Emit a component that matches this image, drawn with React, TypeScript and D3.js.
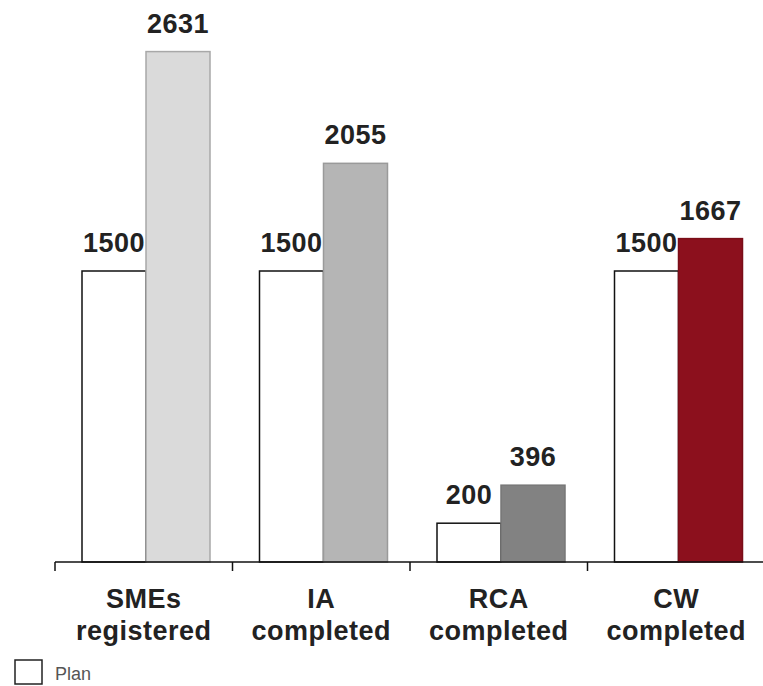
import * as d3 from "d3";
import { useEffect, useRef } from "react";

const categories = ["SMEs registered", "IA completed", "RCA completed", "CW completed"];
const planValues = [1500, 1500, 200, 1500];
const actualValues = [2631, 2055, 396, 1667];
const actualColors = ["#dadada", "#b5b5b5", "#828282", "#8c101d"];
const actualStrokes = ["#a8a8a8", "#9a9a9a", "#777777", "#7a0d18"];
const legendLabels = ["Plan"];

const Chart = () => {
  const ref = useRef(null);

  useEffect(() => {
    var width = 763;
    var height = 686;
    var baseline = 562;

    var svg = d3
      .select(ref.current)
      .append("svg")
      .attr("width", width)
      .attr("height", height)
      .style("position", "absolute")
      .style("left", "0px")
      .style("top", "0px")
      .style("font-family", "Liberation Sans, Arial, sans-serif");

    var x0 = d3.scaleBand().domain(categories).range([55, 765]).padding(0);
    // two bars per group, plan on the left, actual on the right
    var x1 = d3.scaleBand().domain(["plan", "actual"]).range([27, 155]).padding(0);
    var y = d3.scaleLinear().domain([0, 1500]).range([baseline, 271]);

    var data = categories.map((c, i) => ({
      key: c,
      plan: planValues[i],
      actual: actualValues[i],
      fill: actualColors[i],
      stroke: actualStrokes[i],
    }));

    var g = svg.selectAll("g.group").data(data).enter().append("g")
      .attr("transform", (d) => "translate(" + x0(d.key) + ",0)");

    g.append("rect")
      .attr("x", x1("plan")!)
      .attr("y", (d) => y(d.plan))
      .attr("width", x1.bandwidth())
      .attr("height", (d) => baseline - y(d.plan))
      .attr("fill", "white")
      .attr("stroke", "#111")
      .attr("stroke-width", 1.5);

    g.append("rect")
      .attr("x", x1("actual")!)
      .attr("y", (d) => y(d.actual))
      .attr("width", x1.bandwidth())
      .attr("height", (d) => baseline - y(d.actual))
      .attr("fill", (d) => d.fill)
      .attr("stroke", (d) => d.stroke)
      .attr("stroke-width", 1.5);

    // value labels
    g.append("text")
      .attr("x", x1("plan")! + x1.bandwidth() / 2)
      .attr("y", (d) => y(d.plan) - 19)
      .attr("text-anchor", "middle")
      .style("font-size", "27px")
      .style("font-weight", "bold")
      .style("letter-spacing", "0.5px")
      .attr("fill", "#222")
      .text((d) => d.plan);

    g.append("text")
      .attr("x", x1("actual")! + x1.bandwidth() / 2)
      .attr("y", (d) => y(d.actual) - 19)
      .attr("text-anchor", "middle")
      .style("font-size", "27px")
      .style("font-weight", "bold")
      .style("letter-spacing", "0.5px")
      .attr("fill", "#222")
      .text((d) => d.actual);

    // axis
    svg.append("line")
      .attr("x1", 55).attr("x2", width)
      .attr("y1", baseline).attr("y2", baseline)
      .attr("stroke", "#111").attr("stroke-width", 1.5);

    svg.selectAll("line.tick").data(categories).enter().append("line")
      .attr("x1", (d) => x0(d)!).attr("x2", (d) => x0(d)!)
      .attr("y1", baseline).attr("y2", baseline + 9)
      .attr("stroke", "#111").attr("stroke-width", 1.5);

    var labels = svg.selectAll("text.cat").data(categories).enter().append("text")
      .attr("text-anchor", "middle")
      .attr("fill", "#222")
      .style("font-size", "27px")
      .style("font-weight", "bold")
      .style("letter-spacing", "0.5px");
    labels.append("tspan")
      .attr("x", (d) => x0(d)! + x0.bandwidth() / 2)
      .attr("y", 608)
      .text((d) => d.split(" ")[0]);
    labels.append("tspan")
      .attr("x", (d) => x0(d)! + x0.bandwidth() / 2)
      .attr("y", 640)
      .text((d) => d.split(" ")[1]);

    // legend
    var lg = svg.selectAll("g.legend").data(legendLabels).enter().append("g");
    lg.append("rect")
      .attr("x", 15).attr("y", 660).attr("width", 27).attr("height", 24)
      .attr("fill", "white").attr("stroke", "#222").attr("stroke-width", 1.5);
    lg.append("text")
      .attr("x", 55).attr("y", 680)
      .attr("fill", "#555")
      .style("font-size", "18px")
      .text((d) => d);

    return function () {
      svg.remove();
    };
  }, []);
  return <div ref={ref} />;
};

export default function App() {
  return <Chart />;
}
